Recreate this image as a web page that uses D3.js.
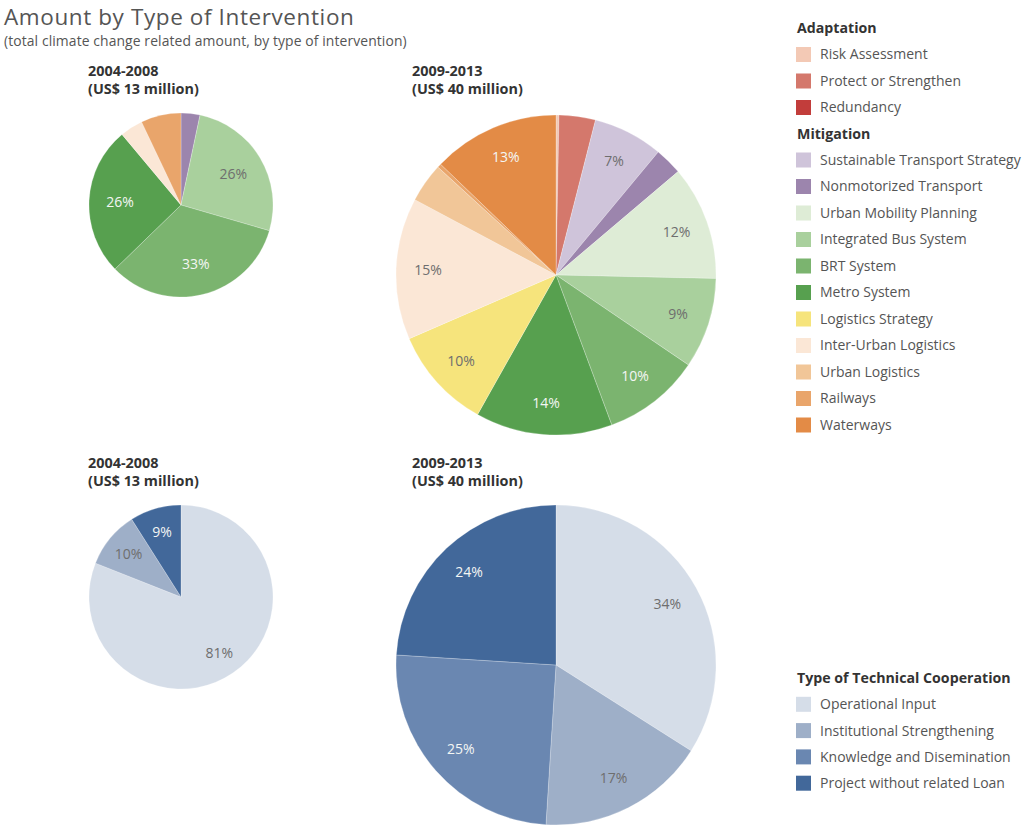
<!DOCTYPE html>
<html><head><meta charset="utf-8">
<script src="https://cdn.jsdelivr.net/npm/d3@7"></script>
<style>
html,body{margin:0;padding:0;background:#fff;}
svg{display:block;font-family:"Open Sans","Noto Sans",sans-serif;}
</style></head>
<body>
<svg id="c" width="1027" height="826"></svg>
<script>
// ---- data ----
const adaptationCats = ["Risk Assessment","Protect or Strengthen","Redundancy"];
const mitigationCats = ["Sustainable Transport Strategy","Nonmotorized Transport","Urban Mobility Planning","Integrated Bus System","BRT System","Metro System","Logistics Strategy","Inter-Urban Logistics","Urban Logistics","Railways","Waterways"];
const interventionColors = ["#f3c9b5","#d4786c","#c23d3b","#cfc4da","#9c85ad","#deecd6","#a9d09d","#7bb46f","#57a04f","#f6e47c","#fbe7d6","#f1c698","#e9a56b","#e38b46"];
const intervention0408 = [0,0,0,0,3.3,0,26,33,26,0,4,0,7,0];
const labels0408 =       ["","","","","","","26%","33%","26%","","","","",""];
const intervention0913 = [0.3,3.7,0,7.1,2.8,11.6,9.2,9.9,13.9,10.4,14.4,4,0.4,12.9];
const labels0913 =       ["","","","7%","","12%","9%","10%","14%","10%","15%","","","13%"];

const techCats = ["Operational Input","Institutional Strengthening","Knowledge and Disemination","Project without related Loan"];
const techColors = ["#d5dde8","#9eafc8","#6a87b1","#42689a"];
const tech0408 = [81,10,0,9];
const techLabels0408 = ["81%","10%","","9%"];
const tech0913 = [34,17,25,24];
const techLabels0913 = ["34%","17%","25%","24%"];

const periods = ["2004-2008","2009-2013"];
const totals = ["(US$ 13 million)","(US$ 40 million)"];

// ---- drawing ----
const svg = d3.select("#c");

svg.append("text").attr("x",4).attr("y",24.5).attr("font-size",22.5).attr("letter-spacing",0.6).attr("fill","#555")
  .text("Amount by Type of Intervention");
svg.append("text").attr("x",4).attr("y",46).attr("font-size",13.9).attr("letter-spacing",0.1).attr("fill","#555")
  .text("(total climate change related amount, by type of intervention)");

const pie = d3.pie().sort(null).value(d => d.v);

function drawPie(cx, cy, r, values, colors, labels, lr) {
  const data = values.map((v,i)=>({v, c:colors[i], l:labels[i]}));
  const arcs = pie(data);
  const g = svg.append("g").attr("transform",`translate(${cx},${cy})`);
  const arc = d3.arc().innerRadius(0).outerRadius(r);
  g.selectAll("path").data(arcs.filter(a=>a.data.v>0)).join("path")
    .attr("d",arc).attr("fill",a=>a.data.c)
    .attr("stroke","#fff").attr("stroke-width",0.4).attr("stroke-opacity",0.6);
  const la = d3.arc().innerRadius(lr).outerRadius(lr);
  g.selectAll("text").data(arcs.filter(a=>a.data.l)).join("text")
    .attr("transform",a=>`translate(${la.centroid(a)})`)
    .attr("text-anchor","middle").attr("dy","0.35em")
    .attr("font-size",14)
    .attr("fill",a=> d3.hsl(a.data.c).l < 0.6 ? "#f4f6f4" : "#6e6e6e")
    .text(a=>a.data.l);
}

function header(x, y, i) {
  svg.append("text").attr("x",x).attr("y",y).attr("font-size",14.4).attr("font-weight","bold").attr("fill","#333").text(periods[i]);
  svg.append("text").attr("x",x).attr("y",y+17.5).attr("font-size",14.4).attr("font-weight","bold").attr("fill","#333").text(totals[i]);
}

header(88,76,0); header(412,76,1);
header(88,468,0); header(412,468,1);

drawPie(181,205,92,intervention0408,interventionColors,labels0408,61);
drawPie(556,275,160,intervention0913,interventionColors,labels0913,128);
drawPie(181,597,92,tech0408,techColors,techLabels0408,68);
drawPie(556,665,160,tech0913,techColors,techLabels0913,127);

// legends
function legendBlock(title, cats, colors, y0, step) {
  svg.append("text").attr("x",797).attr("y",y0+5).attr("font-size",14.2).attr("font-weight","bold").attr("fill","#333").text(title);
  cats.forEach((c,i)=>{
    const y = y0 + step*(i+1);
    svg.append("rect").attr("x",796).attr("y",y-7.5).attr("width",15).attr("height",15).attr("fill",colors[i]);
    svg.append("text").attr("x",820).attr("y",y).attr("dy","0.35em").attr("font-size",14).attr("fill","#555").text(c);
  });
}
legendBlock("Adaptation", adaptationCats, interventionColors.slice(0,3), 28, 26.5);
legendBlock("Mitigation", mitigationCats, interventionColors.slice(3), 133.5, 26.5);
legendBlock("Type of Technical Cooperation", techCats, techColors, 678, 26.3);
</script>
</body></html>
